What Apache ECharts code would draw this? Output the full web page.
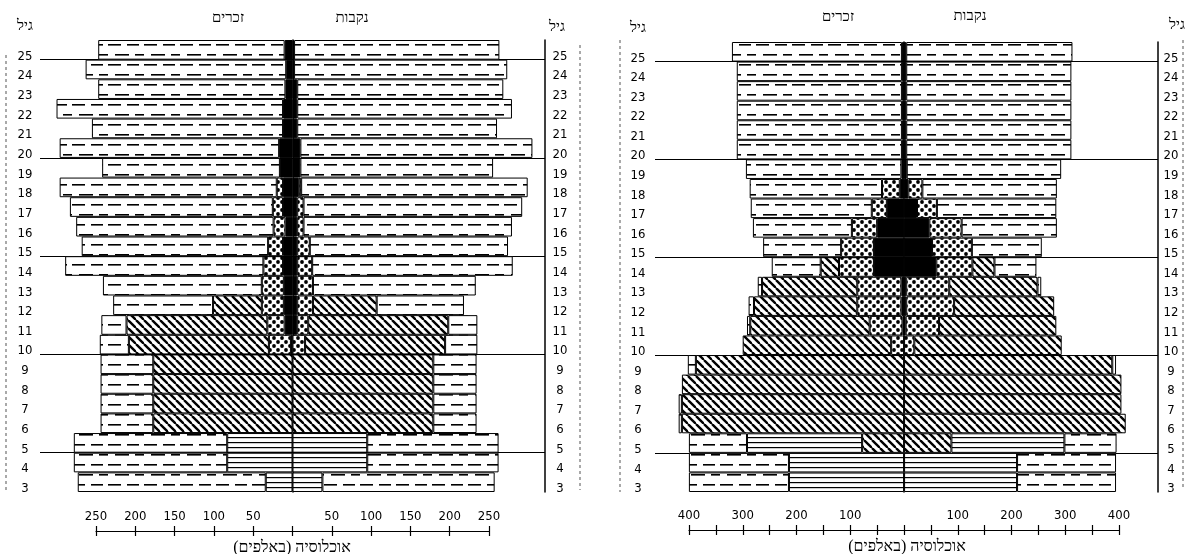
<!DOCTYPE html>
<html>
<head>
<meta charset="utf-8">
<script src="https://cdn.jsdelivr.net/npm/echarts@6/dist/echarts.min.js"></script>
<style>
html, body { margin: 0; background: #fff; }
#chart { width: 1186px; height: 554px; }
</style>
</head>
<body>
<div id="chart"></div>
<script>
// ages, bottom row first
var ages = [3, 4, 5, 6, 7, 8, 9, 10, 11, 12, 13, 14, 15, 16, 17, 18, 19, 20, 21, 22, 23, 24, 25];
var levels = [5, 10, 15, 20, 25];

// left pyramid, thousands (index 0 = age 3)
var lMaleBlack  = [0, 0, 0, 0, 0, 0, 0, 2, 10, 11, 11, 12, 12, 9, 12, 12, 16, 17, 12, 12, 9, 8, 10];
var lMaleDots   = [0, 0, 0, 0, 0, 0, 0, 28, 22, 28, 28, 25, 19, 15, 13, 8, 0, 0, 0, 0, 0, 0, 0];
var lMaleHatch  = [0, 0, 0, 177, 177, 177, 177, 178, 179, 62, 0, 0, 0, 0, 0, 0, 0, 0, 0, 0, 0, 0, 0];
var lMaleLines  = [34, 83, 83, 0, 0, 0, 0, 0, 0, 0, 0, 0, 0, 0, 0, 0, 0, 0, 0, 0, 0, 0, 0];
var lMaleDash   = [239, 195, 195, 67, 67, 67, 67, 37, 32, 127, 202, 252, 237, 251, 258, 276, 226, 279, 243, 288, 238, 255, 237];

var lFemBlack   = [0, 0, 0, 0, 0, 0, 0, 0, 6, 6, 6, 6, 6, 6, 6, 8, 10, 10, 6, 6, 6, 2, 2];
var lFemDots    = [0, 0, 0, 0, 0, 0, 0, 16, 14, 20, 20, 19, 16, 8, 8, 3, 0, 0, 0, 0, 0, 0, 0];
var lFemHatch   = [0, 0, 0, 179, 179, 179, 179, 178, 178, 81, 0, 0, 0, 0, 0, 0, 0, 0, 0, 0, 0, 0, 0];
var lFemLines   = [38, 95, 95, 0, 0, 0, 0, 0, 0, 0, 0, 0, 0, 0, 0, 0, 0, 0, 0, 0, 0, 0, 0];
var lFemDash    = [219, 167, 167, 55, 55, 55, 55, 41, 37, 111, 207, 255, 252, 265, 278, 288, 245, 295, 254, 273, 262, 271, 261];

// right pyramid, thousands
var rMaleBlack  = [0, 0, 0, 0, 0, 0, 0, 0, 3, 5, 5, 56, 56, 50, 32, 8, 5, 4, 4, 4, 4, 4, 4];
var rMaleDots   = [0, 0, 0, 0, 0, 0, 0, 24, 61, 82, 82, 65, 61, 47, 28, 33, 0, 0, 0, 0, 0, 0, 0];
var rMaleHatch  = [0, 0, 78, 413, 413, 413, 387, 276, 222, 192, 177, 34, 0, 0, 0, 0, 0, 0, 0, 0, 0, 0, 0];
var rMaleLines  = [214, 214, 214, 0, 0, 0, 0, 0, 0, 0, 0, 0, 0, 0, 0, 0, 0, 0, 0, 0, 0, 0, 0];
var rMaleDash   = [186, 186, 108, 6, 6, 0, 15, 0, 6, 10, 8, 91, 145, 184, 225, 246, 289, 307, 307, 307, 307, 307, 316];

var rFemBlack   = [0, 0, 0, 0, 0, 0, 0, 0, 3, 4, 4, 60, 52, 47, 24, 8, 5, 4, 4, 4, 4, 4, 4];
var rFemDots    = [0, 0, 0, 0, 0, 0, 0, 19, 62, 89, 80, 67, 74, 60, 37, 26, 0, 0, 0, 0, 0, 0, 0];
var rFemHatch   = [0, 0, 88, 412, 404, 404, 387, 274, 218, 186, 164, 41, 0, 0, 0, 0, 0, 0, 0, 0, 0, 0, 0];
var rFemLines   = [210, 210, 210, 0, 0, 0, 0, 0, 0, 0, 0, 0, 0, 0, 0, 0, 0, 0, 0, 0, 0, 0, 0];
var rFemDash    = [184, 184, 97, 0, 0, 0, 7, 0, 0, 0, 7, 78, 130, 177, 222, 250, 287, 307, 307, 307, 307, 307, 309];

function pattern(w, h, draw) {
    var c = document.createElement('canvas');
    c.width = w; c.height = h;
    var g = c.getContext('2d');
    g.fillStyle = '#fff';
    g.fillRect(0, 0, w, h);
    g.fillStyle = '#000';
    g.strokeStyle = '#000';
    draw(g);
    return { image: c, repeat: 'repeat' };
}

var fillDash = pattern(36, 20, function (g) {
    g.fillRect(0, 4, 13, 1.6); g.fillRect(19, 4, 12, 1.6);
    g.fillRect(7, 14, 14, 1.6); g.fillRect(27, 14, 9, 1.6);
});
var fillLines = pattern(8, 5, function (g) { g.fillRect(0, 2, 8, 1.2); });
var fillHatch = pattern(8, 8, function (g) {
    g.lineWidth = 2.4;
    [-8, 0, 8].forEach(function (k) {
        g.beginPath(); g.moveTo(k, 0); g.lineTo(k + 8, 8); g.stroke();
    });
});
var fillDots = pattern(8, 8, function (g) {
    g.beginPath(); g.arc(2, 2, 1.9, 0, Math.PI * 2); g.fill();
    g.beginPath(); g.arc(6, 6, 1.9, 0, Math.PI * 2); g.fill();
});
var fills = ['#000', fillDots, fillHatch, fillLines, fillDash];

function barSeries(gi, vals, sign, fill) {
    return {
        type: 'bar', xAxisIndex: gi, yAxisIndex: gi * 3,
        stack: 'p' + gi, stackStrategy: 'samesign', barWidth: '100%',
        data: vals.map(function (v) { return v ? sign * v : '-'; }),
        itemStyle: { color: fill, borderColor: '#000', borderWidth: 1 },
        silent: true, z: 2
    };
}

function pyramid(gi, male, female, xmin, xmax) {
    var out = [];
    for (var k = 0; k < 5; k++) {
        out.push(barSeries(gi, male[k], -1, fills[k]));
        out.push(barSeries(gi, female[k], 1, fills[k]));
    }
    out.push({
        type: 'lines', coordinateSystem: 'cartesian2d', xAxisIndex: gi, yAxisIndex: gi * 3 + 2,
        polyline: false, silent: true, z: 1,
        lineStyle: { color: '#000', width: 1, opacity: 1 },
        data: levels.map(function (a) { return { coords: [[xmin, a], [xmax, a]] }; })
    });
    return out;
}

var numFont = '"DejaVu Sans Condensed", "DejaVu Sans", sans-serif';
var hebFont = '"Liberation Serif", "DejaVu Sans", serif';

function catAxis(gi, pos, margin) {
    return {
        type: 'category', gridIndex: gi, data: ages, position: pos,
        axisLine: { show: true, lineStyle: { color: '#000', width: 1.5 } },
        axisTick: { show: false },
        axisLabel: { margin: margin, align: 'center', verticalAlign: 'top', fontSize: 13, color: '#000', fontFamily: numFont, interval: 0 },
        splitLine: { show: false }
    };
}
function hiddenValAxis(gi) {
    return { type: 'value', gridIndex: gi, min: 3, max: 26, show: false };
}
function barX(gi, min, max) {
    return { type: 'value', gridIndex: gi, min: min, max: max, show: false, splitLine: { show: false } };
}
function tickX(gi, lim, fmt, withLabels) {
    return {
        type: 'value', gridIndex: gi, min: -lim, max: lim, interval: 50, position: 'bottom',
        axisLine: { show: withLabels, lineStyle: { color: '#000', width: 1.2 } },
        axisTick: { show: true, inside: withLabels, length: 5, lineStyle: { color: '#000', width: 1.2 } },
        axisLabel: { show: withLabels, inside: true, margin: 8, formatter: fmt, fontSize: 13, color: '#000', fontFamily: numFont },
        splitLine: { show: false }
    };
}

var chart = echarts.init(document.getElementById('chart'), null, { renderer: 'canvas' });

var leftMale = [lMaleBlack, lMaleDots, lMaleHatch, lMaleLines, lMaleDash];
var leftFem = [lFemBlack, lFemDots, lFemHatch, lFemLines, lFemDash];
var rightMale = [rMaleBlack, rMaleDots, rMaleHatch, rMaleLines, rMaleDash];
var rightFem = [rFemBlack, rFemDots, rFemHatch, rFemLines, rFemDash];

var text = function (x, y, s, size) {
    return { type: 'text', x: x, y: y, silent: true,
        style: { text: s, font: size + 'px ' + hebFont, fill: '#000', align: 'center', verticalAlign: 'middle' } };
};
var vline = function (x, y1, y2) {
    return { type: 'line', silent: true, shape: { x1: x, y1: y1, x2: x, y2: y2 },
        style: { stroke: '#555', lineWidth: 1, lineDash: [3, 3] } };
};

chart.setOption({
    animation: false,
    backgroundColor: '#fff',
    grid: [
        { left: 40, top: 40, width: 505, height: 452 },
        { left: 655, top: 42, width: 503, height: 450 },
        { left: 96, top: 530, width: 393, height: 1 },
        { left: 689, top: 529, width: 430, height: 1 }
    ],
    xAxis: [
        barX(0, -321, 321),
        barX(1, -463, 472),
        tickX(2, 250, function (v) { return v === 0 ? '' : Math.abs(v); }, true),
        tickX(2, 250, function () { return ''; }, false),
        tickX(3, 400, function (v) { return (v === 0 || v % 100) ? '' : Math.abs(v); }, true),
        tickX(3, 400, function () { return ''; }, false)
    ],
    yAxis: [
        catAxis(0, 'left', 15), catAxis(0, 'right', 15), hiddenValAxis(0),
        catAxis(1, 'left', 17), catAxis(1, 'right', 13), hiddenValAxis(1),
        { type: 'value', gridIndex: 2, show: false },
        { type: 'value', gridIndex: 3, show: false }
    ],
    series: pyramid(0, leftMale, leftFem, -321, 321).concat(pyramid(1, rightMale, rightFem, -463, 472)),
    graphic: [
        text(228, 18, 'זכרים', 15), text(352, 18, 'נקבות', 15),
        text(838, 17, 'זכרים', 15), text(970, 16, 'נקבות', 15),
        text(25, 26, 'גיל', 15), text(557, 27, 'גיל', 15),
        text(638, 28, 'גיל', 15), text(1177, 25, 'גיל', 15),
        text(292, 548, '\u200Fאוכלוסיה (באלפים)\u200F', 16),
        text(907, 547, '\u200Fאוכלוסיה (באלפים)\u200F', 16),
        vline(6, 55, 490), vline(580, 45, 490), vline(620, 40, 492), vline(1183, 40, 490)
    ]
});
</script>
</body>
</html>
